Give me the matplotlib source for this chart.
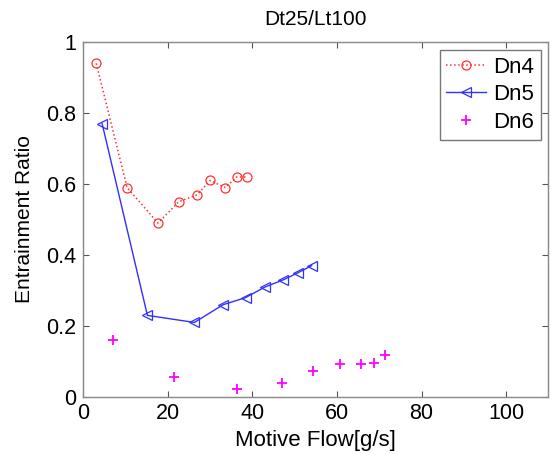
import matplotlib
matplotlib.use("Agg")
import matplotlib.pyplot as plt

plt.rcParams['font.family'] = ['Liberation Sans', 'DejaVu Sans']

dn4_x = [3.1, 10.4, 17.7, 22.6, 27.0, 30.0, 33.6, 36.3, 38.8]
dn4_y = [0.94, 0.59, 0.49, 0.55, 0.57, 0.61, 0.59, 0.62, 0.62]

dn5_x = [4.5, 15.2, 26.3, 33.1, 38.4, 43.0, 47.3, 50.8, 54.0]
dn5_y = [0.77, 0.23, 0.21, 0.26, 0.28, 0.31, 0.33, 0.35, 0.37]

dn6_x = [7.0, 21.6, 36.3, 47.0, 54.3, 60.7, 65.7, 68.7, 71.3]
dn6_y = [0.16, 0.056, 0.023, 0.039, 0.072, 0.092, 0.092, 0.096, 0.117]

xticks = [0, 20, 40, 60, 80, 100]
yticks = [0, 0.2, 0.4, 0.6, 0.8, 1]
yticklabels = ['0', '0.2', '0.4', '0.6', '0.8', '1']

fig = plt.figure(figsize=(5.54, 4.55), dpi=100)
ax = fig.add_axes([0.15, 0.1275, 0.84, 0.78])

ax.plot(dn4_x, dn4_y, color='#ff3030', linestyle=':', linewidth=1.1,
        marker='o', markersize=6.5, markerfacecolor='none', markeredgecolor='#ff3030',
        markeredgewidth=0.9, label='Dn4')
ax.plot(dn5_x, dn5_y, color='#3030ff', linestyle='-', linewidth=1.0,
        marker='<', markersize=6.5, markerfacecolor='none', markeredgecolor='#3030ff',
        markeredgewidth=0.9, label='Dn5')
ax.plot(dn6_x, dn6_y, color='#ff00ff', linestyle='none',
        marker='+', markersize=6.5, markeredgewidth=1.3, label='Dn6')

ax.set_xlim(0, 110)
ax.set_ylim(0, 1)
ax.set_xticks(xticks)
ax.set_yticks(yticks)
ax.set_yticklabels(yticklabels)
ax.tick_params(direction='in', top=True, right=True, length=4, width=0.8,
               color='#555555', labelsize=15.5)
ax.tick_params(axis='x', pad=4)
ax.tick_params(axis='y', pad=5)
for s in ax.spines.values():
    s.set_color('#888888')
    s.set_linewidth(1.0)

ax.set_xlabel('Motive Flow[g/s]', fontsize=16, labelpad=5)
ax.set_ylabel('Entrainment Ratio', fontsize=15, labelpad=9)
ax.set_title('Dt25/Lt100', fontsize=15, pad=12)

leg = ax.legend(loc='upper right', fontsize=16, frameon=True, fancybox=False,
                edgecolor='#555555', handlelength=1.8, handletextpad=0.3,
                borderpad=0.3, labelspacing=0.3, borderaxespad=0.35)
leg.get_frame().set_linewidth(1.0)

fig.savefig('out.png', dpi=100)
